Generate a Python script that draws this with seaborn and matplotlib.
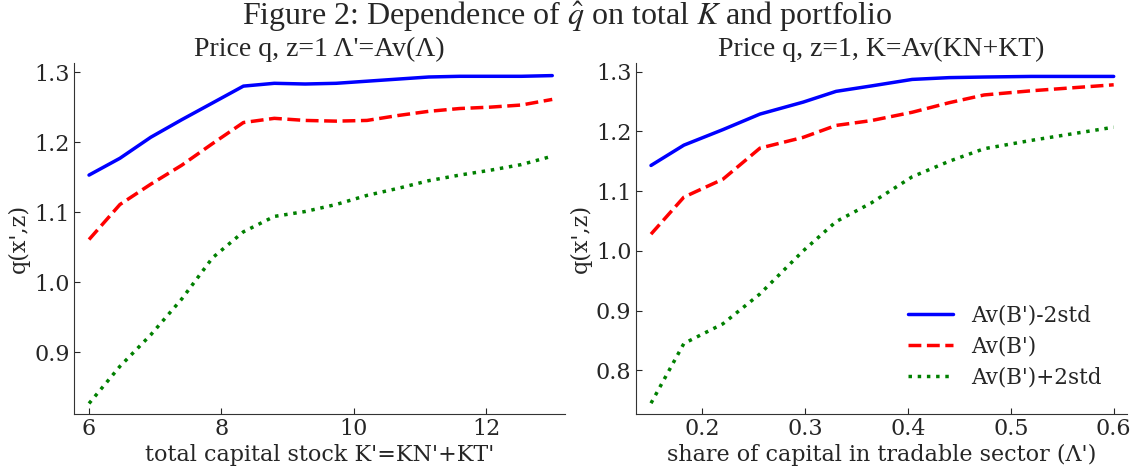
import numpy as np
import pandas as pd
import seaborn as sns
import matplotlib.pyplot as plt

# left panel: q against total capital stock
k_grid = [6.0, 6.467, 6.933, 7.4, 7.867, 8.333, 8.8, 9.267, 9.733,
          10.2, 10.667, 11.133, 11.6, 12.067, 12.533, 13.0]
k_low = [1.153, 1.177, 1.207, 1.232, 1.256, 1.280, 1.284, 1.283, 1.284,
         1.287, 1.290, 1.293, 1.294, 1.294, 1.294, 1.295]
k_mid = [1.061, 1.111, 1.140, 1.167, 1.198, 1.228, 1.234, 1.231, 1.230,
         1.231, 1.238, 1.244, 1.248, 1.250, 1.253, 1.261]
k_high = [0.827, 0.880, 0.925, 0.976, 1.035, 1.072, 1.094, 1.101, 1.111,
          1.124, 1.134, 1.145, 1.153, 1.160, 1.168, 1.180]

# right panel: q against share of capital in tradable sector
s_grid = [0.15, 0.182, 0.22, 0.256, 0.298, 0.33, 0.364, 0.404, 0.44,
          0.474, 0.52, 0.56, 0.6]
s_low = [1.143, 1.177, 1.203, 1.229, 1.249, 1.267, 1.276, 1.287, 1.290,
         1.291, 1.292, 1.292, 1.292]
s_mid = [1.028, 1.090, 1.120, 1.172, 1.190, 1.210, 1.218, 1.232, 1.248,
         1.261, 1.268, 1.273, 1.278]
s_high = [0.745, 0.845, 0.878, 0.928, 1.000, 1.049, 1.080, 1.124, 1.150,
          1.171, 1.185, 1.196, 1.207]

labels = ["Av(B')-2std", "Av(B')", "Av(B')+2std"]
colors = ["blue", "red", "green"]
styles = ["-", "--", ":"]

sns.set_style("ticks")
plt.rcParams["font.family"] = ["DejaVu Serif"]
plt.rcParams["mathtext.fontset"] = "stix"
plt.rcParams["xtick.direction"] = "in"
plt.rcParams["ytick.direction"] = "in"

fig, axes = plt.subplots(1, 2, figsize=(11.35, 4.69), dpi=100)
fig.subplots_adjust(left=0.0652, right=0.993, bottom=0.1173, top=0.8657, wspace=0.1426)

panels = [
    (axes[0], k_grid, [k_low, k_mid, k_high], "Price q, z=1 Λ'=Av(Λ)",
     "total capital stock K'=KN'+KT'", (5.773, 13.2), (0.812, 1.313)),
    (axes[1], s_grid, [s_low, s_mid, s_high], "Price q, z=1, K=Av(KN+KT)",
     "share of capital in tradable sector (Λ')", (0.135, 0.613), (0.727, 1.3145)),
]

for ax, xs, series, title, xlabel, xlim, ylim in panels:
    for ys, lab, col, ls in zip(series, labels, colors, styles):
        df = pd.DataFrame({"x": xs, "y": ys})
        sns.lineplot(data=df, x="x", y="y", ax=ax, color=col, linestyle=ls,
                     linewidth=2.5, label=lab)
    ax.set_xlim(*xlim)
    ax.set_ylim(*ylim)
    ax.set_title(title, fontsize=20, family="Liberation Serif", pad=5)
    ax.set_xlabel(xlabel, fontsize=16, labelpad=3)
    ax.set_ylabel("q(x',z)", fontsize=16, labelpad=3)
    ax.tick_params(labelsize=16, length=4, width=0.8, pad=3)
    for sp in ["left", "bottom"]:
        ax.spines[sp].set_color("#333333")
    sns.despine(ax=ax)

axes[0].set_xticks([6, 8, 10, 12])
axes[0].set_yticks([0.9, 1.0, 1.1, 1.2, 1.3])
axes[1].set_xticks([0.2, 0.3, 0.4, 0.5, 0.6])
axes[1].set_yticks([0.8, 0.9, 1.0, 1.1, 1.2, 1.3])

axes[0].get_legend().remove()
axes[1].legend(loc="lower right", frameon=False, fontsize=15.5, handlelength=2.1,
               borderaxespad=0.8, labelspacing=0.4)

fig.suptitle(r"Figure 2: Dependence of $\hat{q}$ on total $K$ and portfolio",
             fontsize=23, family="Liberation Serif", y=1.0)

plt.savefig("out.png", dpi=100)
